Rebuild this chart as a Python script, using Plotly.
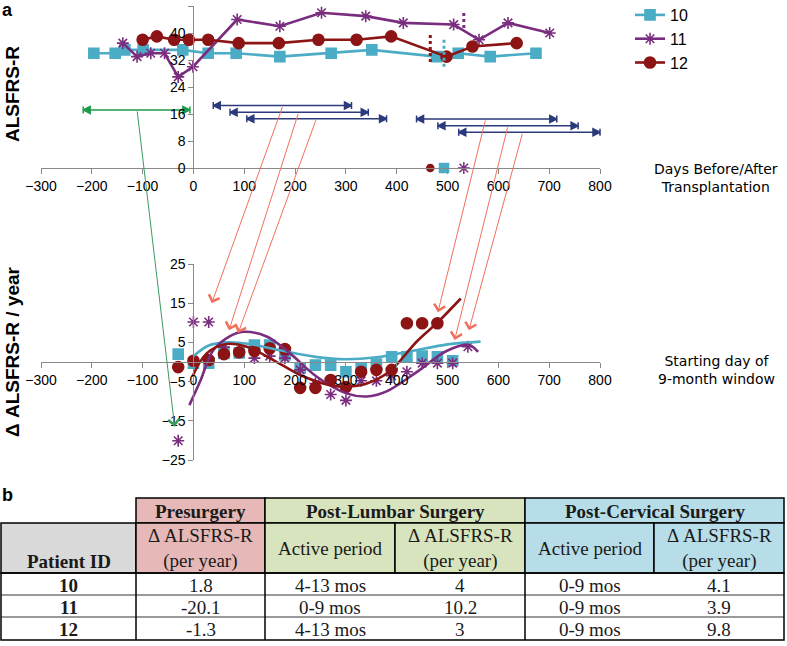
import plotly.graph_objects as go

W, H = 787, 646

# ---------------- panel a (top): ALSFRS-R scores ----------------
series_names = ["10", "11", "12"]
days_p10 = [-196, -154, -135, -99, -21, 29, 84, 170, 271, 351, 479, 521, 584, 674]
score_p10 = [34, 34, 35, 35, 35, 34, 34, 33, 34, 35, 33, 34, 33, 34]
days_p11 = [-139, -111, -84, -57, -30, -1, 86, 170, 252, 339, 413, 512, 562, 619, 701]
score_p11 = [37, 33, 34, 34, 27, 30, 44, 42, 46, 45, 43, 42.5, 38, 43, 40]
days_p12 = [-100, -72, -38, -9, 29, 89, 168, 246, 321, 389, 498, 549, 636]
score_p12 = [38, 39, 38, 38, 38, 37, 37, 38, 38, 39, 33, 36, 37]

# cervical surgery day for 10, 11, 12 and the dotted marker extent
cervical_day = [493, 532, 466]
cerv_mark_lo = [30, 41.5, 31.4]
cerv_mark_hi = [38, 46.5, 40]

# 9-month windows (double arrows)
pre_window = [-217, -7]
pre_level = 17.2
lumbar_start = [39, 72, 105]
lumbar_end = [311, 344, 380]
lumbar_level = [18.5, 16.5, 14.6]
cerv_start = [439, 481, 522]
cerv_end = [715, 757, 800]
cerv_level = [14.5, 12.5, 10.6]

# connectors: from a window (day on its arrow) to a point in the lower panel
conn_from_day = [176, 207, 242, 575, 619, 648]
conn_from_level = [18.5, 16.5, 14.6, 14.5, 12.5, 10.6]
conn_to_day = [36, 70, 88, 481, 514, 542]
conn_to_val = [15, 8.1, 7.4, 12.7, 5.6, 8.1]
green_from_day = -111
green_to_day = -37
green_to_val = -16.5

# ---------------- panel a (bottom): rate of change ----------------
start_day = [-30, 0, 30, 60, 90, 120, 150, 180, 210, 240, 270, 300, 330, 360, 390, 420, 450, 480, 510, 540]
rate_p10 = [2.0, -0.3, -0.3, 2.2, 2.3, 4.3, 4.3, 1.8, -1.5, -0.8, -0.8, -2.5, -1.5, -0.5, 1.3, 1.3, 1.5, 1.3, 0.3]
rate_p11 = [-20.1, 10.2, 10.2, 3.8, 2.5, 1.0, 1.5, 1.0, -2.0, -5.5, -8.3, -9.8, -4.8, -4.8, -3.5, -2.5, -0.3, -0.3, -0.3, 3.9]
rate_p12 = [-1.3, 0.3, 0.5, 2.0, 2.5, 2.8, 3.5, 3.3, -6.6, -6.6, -4.6, -6.4, -2.5, -2.0, -2.0, 9.9, 9.9, 9.9]

# trend curves
trend10_x = [0, 30, 65, 110, 170, 240, 300, 360, 430, 500, 565]
trend10_y = [1.5, 4.2, 5.0, 4.6, 3.0, 1.3, 0.7, 1.2, 2.8, 4.5, 5.2]
trend11_x = [-8, 13, 39, 72, 98, 144, 190, 242, 301, 341, 380, 440, 498, 541, 560]
trend11_y = [-11, -5, 3, 6.6, 7.7, 6.5, 2.2, -3.7, -8, -8.8, -7.5, -2.5, 2.8, 4.4, 2.6]
trend12_x = [-2, 26, 65, 105, 157, 210, 269, 302, 341, 385, 440, 482, 526]
trend12_y = [-3.7, 2.2, 4.6, 3.9, 0.5, -3.3, -5.9, -6.3, -5.5, -2.5, 5.3, 10.3, 16.2]

# ---------------- panel b: table ----------------
group_headers = ["Presurgery", "Post-Lumbar Surgery", "Post-Cervical Surgery"]
sub_headers = ["Patient ID", "Δ ALSFRS-R<br>(per year)", "Active period",
               "Δ ALSFRS-R<br>(per year)", "Active period", "Δ ALSFRS-R<br>(per year)"]
table_patients = ["10", "11", "12"]
pre_rate = ["1.8", "-20.1", "-1.3"]
lumbar_period = ["4-13 mos", "0-9 mos", "4-13 mos"]
lumbar_rate = ["4", "10.2", "3"]
cerv_period = ["0-9 mos", "0-9 mos", "0-9 mos"]
cerv_rate = ["4.1", "3.9", "9.8"]

# ---------------- styles / layout ----------------
C10, C11, C12 = "#4BACC6", "#7A2D7E", "#8C1414"
NAVY, GREEN, SALMON = "#2B3A7C", "#1E9A4A", "#F0705C"
AXC = "#898989"
SANS = "Liberation Sans, Arial, sans-serif"
SERIF = "Liberation Serif, Times New Roman, serif"

X_DOM = [41 / W, 600 / W]
TOP_Y = [1 - 168 / H, 1 - 6 / H]
BOT_Y = [1 - 460 / H, 1 - 264 / H]
X0_POS = X_DOM[0] + 300 / 1100 * (X_DOM[1] - X_DOM[0])
Y0_POS = BOT_Y[0] + 0.5 * (BOT_Y[1] - BOT_Y[0])


def top_to_y2(v):
    p = TOP_Y[0] + v / 48 * (TOP_Y[1] - TOP_Y[0])
    return -25 + (p - BOT_Y[0]) / (BOT_Y[1] - BOT_Y[0]) * 50


fig = go.Figure()

# top panel series
for name, dx, sy, col, sym, size in [
    ("10", days_p10, score_p10, C10, "square", 10),
    ("11", days_p11, score_p11, C11, "asterisk-open", 10),
    ("12", days_p12, score_p12, C12, "circle", 11),
]:
    fig.add_trace(go.Scatter(
        x=dx, y=sy, name=name, mode="lines+markers", xaxis="x", yaxis="y",
        line=dict(color=col, width=2.6),
        marker=dict(symbol=sym, size=size, color=col, line=dict(color=col, width=1.6)),
    ))

# dotted cervical markers and small base markers
for d, lo, hi, col, sym, size in zip(cervical_day, cerv_mark_lo, cerv_mark_hi,
                                     [C10, C11, C12], ["square", "asterisk-open", "circle"], [9, 10, 7]):
    fig.add_trace(go.Scatter(x=[d, d], y=[lo, hi], mode="lines", xaxis="x", yaxis="y",
                             line=dict(color=col, width=3, dash="dot"), showlegend=False, hoverinfo="skip"))
    fig.add_trace(go.Scatter(x=[d], y=[0], mode="markers", xaxis="x", yaxis="y", cliponaxis=False,
                             marker=dict(symbol=sym, size=size, color=col, line=dict(color=col, width=1.5)),
                             showlegend=False, hoverinfo="skip"))


def window_arrow(x0, x1, lvl, col):
    fig.add_trace(go.Scatter(
        x=[x0, x1], y=[lvl, lvl], mode="lines+markers", xaxis="x", yaxis="y", cliponaxis=False,
        line=dict(color=col, width=1.6),
        marker=dict(symbol=["arrow-bar-left", "arrow-bar-right"], size=7, color=col,
                    line=dict(color=col, width=1.5)),
        showlegend=False, hoverinfo="skip"))


window_arrow(pre_window[0], pre_window[1], pre_level, GREEN)
for a, b, l in zip(lumbar_start, lumbar_end, lumbar_level):
    window_arrow(a, b, l, NAVY)
for a, b, l in zip(cerv_start, cerv_end, cerv_level):
    window_arrow(a, b, l, NAVY)

# bottom panel points
for rate, col, sym, size in [(rate_p10, C10, "square", 10), (rate_p11, C11, "asterisk-open", 10),
                             (rate_p12, C12, "circle", 11)]:
    fig.add_trace(go.Scatter(
        x=start_day[:len(rate)], y=rate, mode="markers", xaxis="x2", yaxis="y2",
        marker=dict(symbol=sym, size=size, color=col, line=dict(color=col, width=1.6)),
        showlegend=False, hoverinfo="skip"))

for tx, ty, col in [(trend10_x, trend10_y, C10), (trend11_x, trend11_y, C11), (trend12_x, trend12_y, C12)]:
    fig.add_trace(go.Scatter(x=tx, y=ty, mode="lines", xaxis="x2", yaxis="y2", cliponaxis=False,
                             line=dict(color=col, width=2.6, shape="spline", smoothing=1.0),
                             showlegend=False, hoverinfo="skip"))

# dummy trace so the table axes exist
fig.add_trace(go.Scatter(x=[], y=[], xaxis="x3", yaxis="y3", showlegend=False))

annotations = []
for fd, fl, td, tv in zip(conn_from_day, conn_from_level, conn_to_day, conn_to_val):
    annotations.append(dict(x=td, y=tv, xref="x2", yref="y2", ax=fd, ay=top_to_y2(fl),
                            axref="x2", ayref="y2", text="", showarrow=True, arrowhead=4,
                            arrowsize=2.2, arrowwidth=1, arrowcolor=SALMON, standoff=0))
annotations.append(dict(x=green_to_day, y=green_to_val, xref="x2", yref="y2", ax=green_from_day,
                        ay=top_to_y2(pre_level), axref="x2", ayref="y2", text="", showarrow=True,
                        arrowhead=4, arrowsize=2.2, arrowwidth=1, arrowcolor="#3C9A5F", standoff=0))

# titles and labels
annotations += [
    dict(x=12 / W, y=1 - 94 / H, xref="paper", yref="paper", text="<b>ALSFRS-R</b>", textangle=-90,
         xanchor="center", yanchor="middle",
         showarrow=False, font=dict(size=19, family=SANS, color="#000")),
    dict(x=12 / W, y=1 - 352 / H, xref="paper", yref="paper", text="<b>Δ ALSFRS-R / year</b>", textangle=-90,
         xanchor="center", yanchor="middle",
         showarrow=False, font=dict(size=19, family=SANS, color="#000")),
    dict(x=7 / W, y=1 - 10 / H, xref="paper", yref="paper", text="<b>a</b>", showarrow=False,
         xanchor="center", yanchor="middle", font=dict(size=18, family=SANS, color="#000")),
    dict(x=7 / W, y=1 - 495 / H, xref="paper", yref="paper", text="<b>b</b>", showarrow=False,
         xanchor="center", yanchor="middle", font=dict(size=18, family=SANS, color="#000")),
    dict(x=716 / W, y=1 - 178 / H, xref="paper", yref="paper", text="Days Before/After<br>Transplantation",
         xanchor="center", yanchor="middle",
         showarrow=False, font=dict(size=14, family="DejaVu Sans", color="#000")),
    dict(x=716 / W, y=1 - 370 / H, xref="paper", yref="paper", text="Starting day of<br>9-month window",
         xanchor="center", yanchor="middle",
         showarrow=False, font=dict(size=14, family="DejaVu Sans", color="#000")),
]

# ---------------- table (on hidden pixel-unit axes x3/y3) ----------------
COL = [1, 136, 265, 395, 525, 654, 784]
ROW = [498, 523, 573, 595, 617, 640]
PINK, LGREEN, LBLUE, GRAY = "#E6B9B8", "#D7E4BD", "#B7DEE8", "#D9D9D9"
shapes = []


def rect(c0, c1, r0, r1, fill="rgba(0,0,0,0)", lc="#000", lw=1.5):
    shapes.append(dict(type="rect", xref="x3", yref="y3", x0=COL[c0], x1=COL[c1], y0=ROW[r0], y1=ROW[r1],
                       fillcolor=fill, line=dict(color=lc, width=lw), layer="above"))


def hline(r, c0, c1, lc, lw):
    shapes.append(dict(type="line", xref="x3", yref="y3", x0=COL[c0], x1=COL[c1], y0=ROW[r], y1=ROW[r],
                       line=dict(color=lc, width=lw), layer="above"))


def vline(c, r0, r1, lc, lw):
    shapes.append(dict(type="line", xref="x3", yref="y3", x0=COL[c], x1=COL[c], y0=ROW[r0], y1=ROW[r1],
                       line=dict(color=lc, width=lw), layer="above"))


group_spans = [(1, 2, PINK), (2, 4, LGREEN), (4, 6, LBLUE)]
sub_fill = [GRAY, PINK, LGREEN, LGREEN, LBLUE, LBLUE]
for (c0, c1, f) in group_spans:
    rect(c0, c1, 0, 1, fill=f)
for i, f in enumerate(sub_fill):
    rect(i, i + 1, 1, 2, fill=f)
hline(3, 0, 6, "#9A9A9A", 2)
hline(4, 0, 6, "#9A9A9A", 2)
rect(0, 6, 2, 5)
for c in [1, 2, 4]:
    vline(c, 2, 5, "#000", 1.5)

TXT = "#1A1A1A"
TFS = 19
for (c0, c1, _), txt in zip(group_spans, group_headers):
    annotations.append(dict(x=(COL[c0] + COL[c1]) / 2, y=(ROW[0] + ROW[1]) / 2 + 1, xref="x3", yref="y3",
                            text="<b>" + txt + "</b>", showarrow=False,
                            font=dict(size=TFS, family=SERIF, color=TXT)))
for i, txt in enumerate(sub_headers):
    if i == 0:
        y = ROW[2] - 12
        txt = "<b>" + txt + "</b>"
    else:
        y = (ROW[1] + ROW[2]) / 2
    annotations.append(dict(x=(COL[i] + COL[i + 1]) / 2, y=y, xref="x3", yref="y3", text=txt,
                            showarrow=False, font=dict(size=TFS, family=SERIF, color=TXT)))
columns = [["<b>" + p + "</b>" for p in table_patients], pre_rate, lumbar_period, lumbar_rate, cerv_period, cerv_rate]
for ci, colvals in enumerate(columns):
    for ri, v in enumerate(colvals):
        annotations.append(dict(x=(COL[ci] + COL[ci + 1]) / 2, y=(ROW[2 + ri] + ROW[3 + ri]) / 2 + 1,
                                xref="x3", yref="y3", text=v, showarrow=False,
                                font=dict(size=TFS, family=SERIF, color=TXT)))

axis_common = dict(showline=True, linecolor=AXC, linewidth=1.3, ticks="outside", tickcolor=AXC,
                   ticklen=5, tickwidth=1.3, showgrid=False, zeroline=False, automargin=False,
                   tickfont=dict(size=14, family=SANS, color="#000"), fixedrange=True)
ticks_x = list(range(-300, 801, 100))

fig.update_layout(
    width=W, height=H, margin=dict(l=0, r=0, t=0, b=0, autoexpand=False),
    paper_bgcolor="white", plot_bgcolor="rgba(0,0,0,0)",
    font=dict(family=SANS, color="#000"),
    showlegend=True,
    legend=dict(x=630 / W, y=1 + 2 / H, xanchor="left", yanchor="top", bgcolor="rgba(0,0,0,0)",
                font=dict(size=16, family=SANS, color="#000"), itemwidth=30, tracegroupgap=0),
    xaxis=dict(domain=X_DOM, range=[-300, 800], anchor="y", tickvals=ticks_x, **axis_common),
    yaxis=dict(domain=TOP_Y, range=[0, 48], anchor="free", position=X0_POS,
               tickvals=list(range(0, 49, 8)), **axis_common),
    xaxis2=dict(domain=X_DOM, range=[-300, 800], anchor="free", position=Y0_POS, tickvals=ticks_x, **axis_common),
    yaxis2=dict(domain=BOT_Y, range=[-25, 25], anchor="free", position=X0_POS,
                tickvals=[-25, -15, -5, 5, 15, 25], **axis_common),
    xaxis3=dict(domain=[0, 1], range=[0, W], anchor="y3", visible=False, fixedrange=True, automargin=False),
    yaxis3=dict(domain=[0, 1], range=[H, 0], anchor="x3", visible=False, fixedrange=True, automargin=False),
    shapes=shapes,
    annotations=annotations,
)

# remove the browser's default page margin so the figure fills the window exactly
fig.write_html("out.html", config={"displayModeBar": False},
               post_script="document.body.style.margin='0';document.body.style.overflow='hidden';")
